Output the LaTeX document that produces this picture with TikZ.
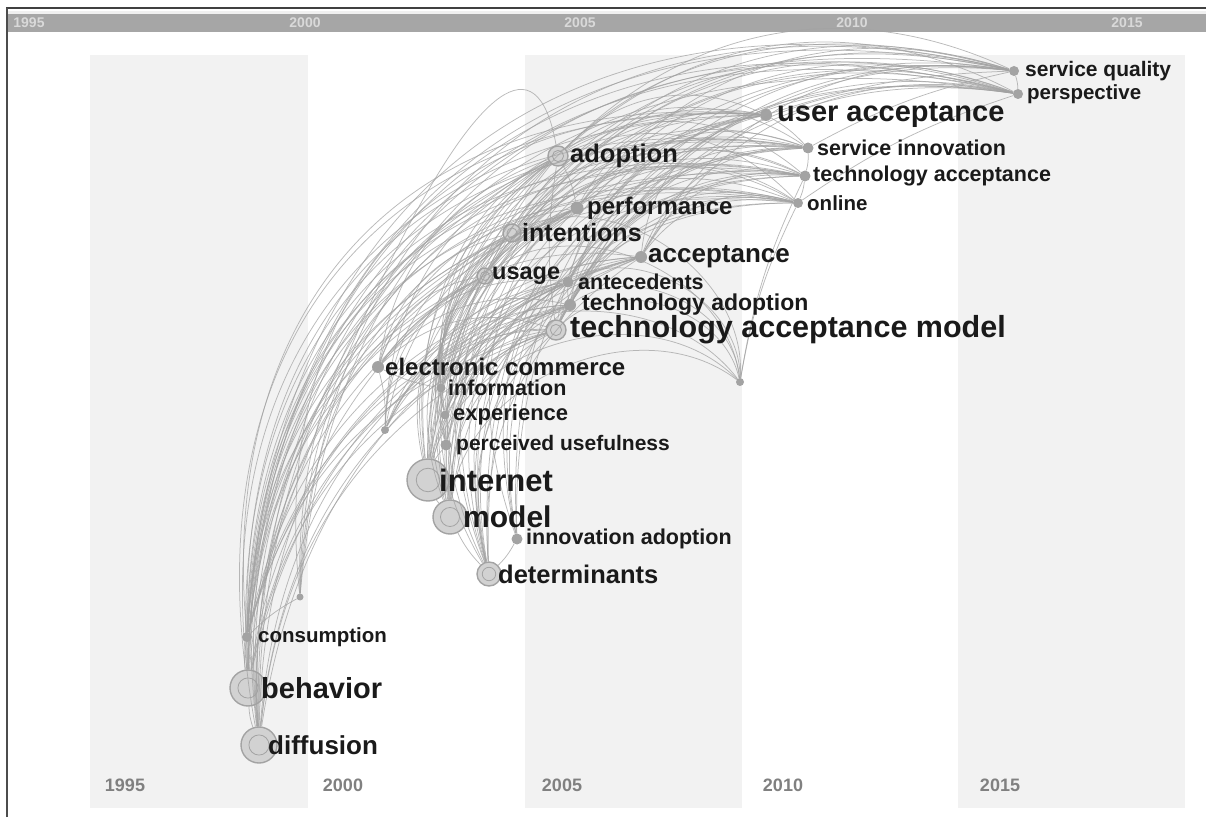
\documentclass[tikz,border=0pt]{standalone}
\usepackage{fontspec}
\setmainfont{Liberation Sans}
\usetikzlibrary{positioning}

\definecolor{bandgray}{HTML}{F2F2F2}
\definecolor{bargray}{HTML}{A6A6A6}
\definecolor{linkgray}{HTML}{A2A2A2}
\definecolor{ringgray}{HTML}{A3A3A3}
\definecolor{hubgray}{HTML}{D2D2D2}
\definecolor{yeargray}{HTML}{808080}
\definecolor{termblack}{HTML}{1A1A1A}

\begin{document}
\begin{tikzpicture}[x=1pt,y=1pt,
  link/.style={draw=linkgray,line width=0.75pt,draw opacity=0.75},
  hub/.style={circle,draw=ringgray,line width=1.4pt,fill=hubgray,inner sep=0pt,minimum size=#1,
    path picture={\draw[ringgray,line width=0.8pt] (path picture bounding box.center) circle[radius=0.28*#1];}},
  dot/.style={circle,fill=ringgray,inner sep=0pt,minimum size=#1},
  term/.style={font=\bfseries\fontsize{#1}{#1}\selectfont,text=termblack,inner sep=0pt},
  year/.style={font=\bfseries\fontsize{18}{18}\selectfont,text=yeargray,inner sep=0pt},
  baryear/.style={font=\bfseries\fontsize{14}{14}\selectfont,text=white!85!black,inner sep=0pt}]
  \useasboundingbox (0,0) rectangle (1206,817);

  % time zones
  \fill[bandgray] (90,9) rectangle (308,762);
  \fill[bandgray] (525,9) rectangle (742,762);
  \fill[bandgray] (958,9) rectangle (1185,762);
  \fill[gray!12] (8,806) rectangle (1206,803);
  \fill[bargray] (8,803) rectangle (1206,785);
  \draw[black!75,line width=2pt] (6,809) -- (1206,809);
  \draw[black!70,line width=1.5pt] (7,0) -- (7,809);
  \foreach \yr/\xb/\xt in {1995/125/29,2000/343/305,2005/562/580,2010/783/852,2015/1000/1127}{
    \node[year] (low\yr) at (\xb,32) {\yr};
    \node[baryear] (bar\yr) at (\xt,794) {\yr};
  }

  % terms
  \node[hub=36pt] (diffusion) at (259,72) {};
  \node[hub=36pt] (behavior) at (248,129) {};
  \node[dot=10pt] (consumption) at (247,180) {};
  \node[dot=7pt] (lowleft) at (300,220) {};
  \node[hub=24pt] (determinants) at (489,243) {};
  \node[dot=11pt] (innovadopt) at (517,278) {};
  \node[hub=34pt] (model) at (450,300) {};
  \node[hub=42pt] (internet) at (428,337) {};
  \node[dot=11pt] (perceived) at (446,372) {};
  \node[dot=9pt] (experience) at (445,402) {};
  \node[dot=8pt] (leftmid) at (385,387) {};
  \node[dot=9pt] (information) at (441,429) {};
  \node[dot=12pt] (ecommerce) at (378,450) {};
  \node[hub=20pt] (tam) at (556,487) {};
  \node[dot=12pt] (techadopt) at (570,512) {};
  \node[dot=11pt] (antecedents) at (568,535) {};
  \node[hub=16pt] (usage) at (485,541) {};
  \node[dot=12pt] (acceptance) at (641,560) {};
  \node[hub=18pt] (intentions) at (512,584) {};
  \node[dot=13pt] (performance) at (577,609) {};
  \node[hub=20pt] (adoption) at (558,661) {};
  \node[dot=8pt] (cluster) at (740,435) {};
  \node[dot=12pt] (useracc) at (766,702) {};
  \node[dot=11pt] (servinno) at (808,669) {};
  \node[dot=11pt] (techacc) at (805,641) {};
  \node[dot=10pt] (online) at (798,614) {};
  \node[dot=10pt] (servqual) at (1014,746) {};
  \node[dot=10pt] (perspective) at (1018,723) {};

  % co-citation arcs
  \foreach \s in {diffusion,behavior,consumption,lowleft,model,internet,determinants,innovadopt}
    \foreach \t in {useracc,servqual,perspective,servinno,techacc,online}
      \draw[link] (\s) to[bend left=50,looseness=1.2] (\t);
  \foreach \s in {diffusion,behavior,consumption,internet,model,determinants,ecommerce,information,experience,perceived,leftmid}
    \foreach \t in {adoption,performance,intentions,acceptance,usage,tam,techadopt,antecedents}
      \draw[link] (\s) to[bend left=30] (\t);
  \foreach \s in {adoption,performance,intentions,acceptance,usage,tam,techadopt,antecedents}
    \foreach \t in {useracc,servqual,perspective,servinno,techacc,online}
      \draw[link] (\s) to[bend left=35] (\t);
  \foreach \s in {internet,model,usage,tam,techadopt,antecedents,intentions,leftmid}
    \draw[link] (\s) to[bend left=60] (cluster);
  \foreach \s/\t in {diffusion/behavior,behavior/consumption,consumption/lowleft,determinants/model,model/internet,
      innovadopt/determinants,internet/perceived,perceived/experience,experience/information,information/ecommerce,
      ecommerce/leftmid,tam/adoption,adoption/performance,performance/intentions,tam/techadopt,techadopt/antecedents,
      useracc/servinno,servinno/techacc,techacc/online,servqual/perspective,cluster/online,cluster/techacc,
      useracc/servqual,online/perspective,servinno/servqual}
    \draw[link] (\s) to[bend left=8] (\t);
  \draw[link] (consumption) to[out=75,in=100] (adoption);

  % labels
  \node[term=26,right=9pt of diffusion.center] (t-diffusion) {diffusion};
  \node[term=29,right=13pt of behavior.center] (t-behavior) {behavior};
  \node[term=20.5,right=11pt of consumption.center] (t-consumption) {consumption};
  \node[term=25.5,right=9pt of determinants.center] (t-determinants) {determinants};
  \node[term=21.5,right=9pt of innovadopt.center] (t-innovadopt) {innovation adoption};
  \node[term=30,right=13pt of model.center] (t-model) {model};
  \node[term=31,right=11pt of internet.center] (t-internet) {internet};
  \node[term=21,right=10pt of perceived.center] (t-perceived) {perceived usefulness};
  \node[term=22,right=8pt of experience.center] (t-experience) {experience};
  \node[term=21.5,right=7pt of information.center] (t-information) {information};
  \node[term=24,right=7pt of ecommerce.center] (t-ecommerce) {electronic commerce};
  \node[term=30.5,right=14pt of tam.center] (t-tam) {technology acceptance model};
  \node[term=23,right=12pt of techadopt.center] (t-techadopt) {technology adoption};
  \node[term=21.5,right=10pt of antecedents.center] (t-antecedents) {antecedents};
  \node[term=23.5,right=7pt of usage.center] (t-usage) {usage};
  \node[term=26,right=7pt of acceptance.center] (t-acceptance) {acceptance};
  \node[term=25,right=10pt of intentions.center] (t-intentions) {intentions};
  \node[term=24,right=10pt of performance.center] (t-performance) {performance};
  \node[term=25.5,right=12pt of adoption.center] (t-adoption) {adoption};
  \node[term=29,right=11pt of useracc.center] (t-useracc) {user acceptance};
  \node[term=21.5,right=9pt of servinno.center] (t-servinno) {service innovation};
  \node[term=21.5,right=8pt of techacc.center] (t-techacc) {technology acceptance};
  \node[term=20.5,right=9pt of online.center] (t-online) {online};
  \node[term=21,right=11pt of servqual.center] (t-servqual) {service quality};
  \node[term=20.5,right=9pt of perspective.center] (t-perspective) {perspective};
\end{tikzpicture}
\end{document}
